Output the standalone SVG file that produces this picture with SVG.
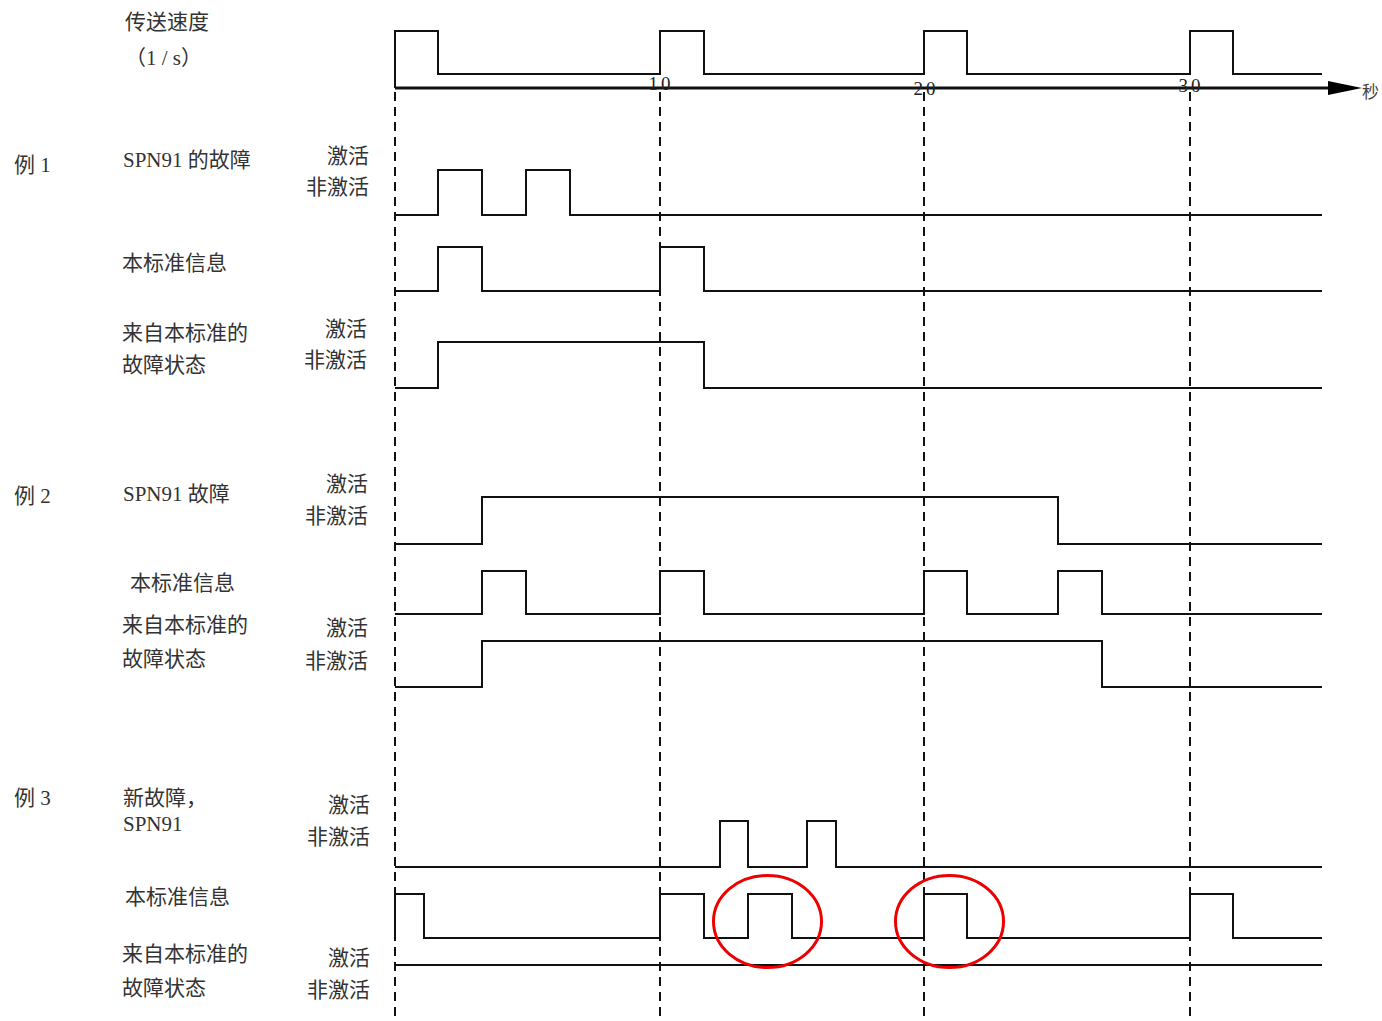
<svg xmlns="http://www.w3.org/2000/svg" width="1382" height="1021" viewBox="0 0 1382 1021">
<style>
.t{font-family:"Liberation Serif","Noto Sans CJK SC",serif;font-size:21px;fill:#333}
.r{text-anchor:end}
.n{font-family:"Liberation Serif",serif;font-size:19px;fill:#222;text-anchor:middle;letter-spacing:3px}
.s{fill:none;stroke:#111;stroke-width:2}
.d{fill:none;stroke:#111;stroke-width:2;stroke-dasharray:9 6}
.e{fill:none;stroke:#e00;stroke-width:3}
</style>
<rect width="1382" height="1021" fill="#fff"/>
<g id="labels">
<text class="t" x="125" y="29">传送速度</text>
<text class="t" x="125" y="65">（1 / s）</text>
<text class="t" x="14" y="172">例 1</text>
<text class="t" x="123" y="167">SPN91 的故障</text>
<text class="t r" x="369" y="163">激活</text>
<text class="t r" x="369" y="194">非激活</text>
<text class="t" x="122" y="270">本标准信息</text>
<text class="t" x="122" y="340">来自本标准的</text>
<text class="t" x="122" y="372">故障状态</text>
<text class="t r" x="367" y="336">激活</text>
<text class="t r" x="367" y="367">非激活</text>
<text class="t" x="14" y="503">例 2</text>
<text class="t" x="123" y="501">SPN91 故障</text>
<text class="t r" x="368" y="491">激活</text>
<text class="t r" x="368" y="523">非激活</text>
<text class="t" x="130" y="590">本标准信息</text>
<text class="t" x="122" y="632">来自本标准的</text>
<text class="t" x="122" y="666">故障状态</text>
<text class="t r" x="368" y="635">激活</text>
<text class="t r" x="368" y="668">非激活</text>
<text class="t" x="14" y="805">例 3</text>
<text class="t" x="123" y="805">新故障，</text>
<text class="t" x="123" y="831">SPN91</text>
<text class="t r" x="370" y="812">激活</text>
<text class="t r" x="370" y="844">非激活</text>
<text class="t" x="125" y="904">本标准信息</text>
<text class="t" x="122" y="961">来自本标准的</text>
<text class="t" x="122" y="995">故障状态</text>
<text class="t r" x="370" y="965">激活</text>
<text class="t r" x="370" y="997">非激活</text>
</g>
<g id="grid">
<line class="d" x1="395" y1="92" x2="395" y2="1021"/>
<line class="d" x1="660" y1="92" x2="660" y2="1021"/>
<line class="d" x1="924" y1="92" x2="924" y2="1021"/>
<line class="d" x1="1190" y1="92" x2="1190" y2="1021"/>
</g>
<g id="axis">
<line x1="395" y1="88" x2="1332" y2="88" stroke="#111" stroke-width="3"/>
<path d="M1328,81 L1362,88 L1328,95 z" fill="#000"/>
<text class="n" x="661" y="90">10</text>
<text class="n" x="926" y="95">20</text>
<text class="n" x="1191" y="92">30</text>
<text x="1362" y="98" font-family="Noto Sans CJK SC,sans-serif" font-size="17" fill="#444">秒</text>
</g>
<g id="signals">
<path class="s" d="M395,88 V31 H438 V74 H660 V31 H704 V74 H924 V31 H967 V74 H1190 V31 H1233 V74 H1322"/>
<path class="s" d="M395,215 H438 V170 H482 V215 H526 V170 H570 V215 H1322"/>
<path class="s" d="M395,291 H438 V247 H482 V291 H660 V247 H704 V291 H1322"/>
<path class="s" d="M395,388 H438 V342 H704 V388 H1322"/>
<path class="s" d="M395,544 H482 V497 H1058 V544 H1322"/>
<path class="s" d="M395,614 H482 V571 H526 V614 H660 V571 H704 V614 H924 V571 H967 V614 H1058 V571 H1102 V614 H1322"/>
<path class="s" d="M395,687 H482 V641 H1102 V687 H1322"/>
<path class="s" d="M395,867 H720 V821 H748 V867 H807 V821 H836 V867 H1322"/>
<path class="s" d="M395,938 V894 H424 V938 H660 V894 H704 V938 H748 V894 H792 V938 H924 V894 H967 V938 H1190 V894 H1233 V938 H1322"/>
<path class="s" d="M395,965 H1322"/>
</g>
<g id="highlights">
<ellipse class="e" cx="767.5" cy="921.5" rx="54" ry="46"/>
<ellipse class="e" cx="949.5" cy="921.5" rx="54" ry="46"/>
</g>
</svg>
